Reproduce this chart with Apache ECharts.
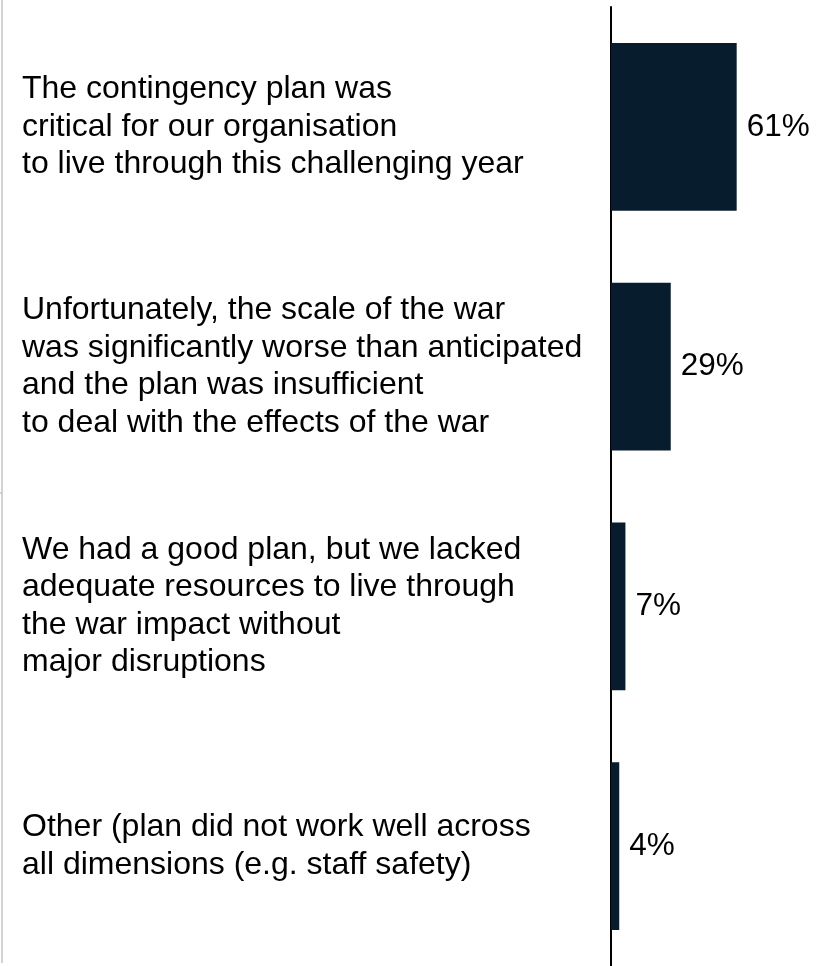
<!DOCTYPE html>
<html>
<head>
<meta charset="utf-8">
<script src="https://cdn.jsdelivr.net/npm/echarts@6/dist/echarts.min.js"></script>
<style>
  html, body { margin: 0; padding: 0; background: #ffffff; }
  #chart { width: 816px; height: 966px; }
</style>
</head>
<body>
<div id="chart"></div>
<script>
// Survey answers, top to bottom
const categories = [
  'The contingency plan was\ncritical for our organisation\nto live through this challenging year',
  'Unfortunately, the scale of the war\nwas significantly worse than anticipated\nand the plan was insufficient\nto deal with the effects of the war',
  'We had a good plan, but we lacked\nadequate resources to live through\nthe war impact without\nmajor disruptions',
  'Other (plan did not work well across\nall dimensions (e.g. staff safety)'
];
// Share of respondents, percent
const shares = [61, 29, 7, 4];

const FONT = '"Liberation Sans", Arial, sans-serif';
const chart = echarts.init(document.getElementById('chart'), null, { renderer: 'canvas' });

chart.setOption({
  backgroundColor: '#ffffff',
  animation: false,
  grid: { left: 611, top: 7, width: 205, height: 962, containLabel: false },
  xAxis: { type: 'value', min: 0, max: 99.5, show: false },
  yAxis: {
    type: 'category',
    data: categories,
    inverse: true,
    axisLine: { show: true, lineStyle: { color: '#000000', width: 2 } },
    axisTick: { show: false },
    splitLine: { show: false },
    axisLabel: {
      align: 'left',
      margin: 589,
      color: '#000000',
      fontFamily: FONT,
      fontSize: 32,
      lineHeight: 37.5,
      padding: [3, 0, 0, 0]
    }
  },
  series: [{
    type: 'bar',
    data: shares,
    barWidth: '70%',
    itemStyle: { color: '#071c2d' },
    label: {
      show: true,
      position: 'right',
      distance: 10,
      formatter: p => p.value + '%',
      color: '#000000',
      fontFamily: FONT,
      fontSize: 31.5,
      padding: [2, 0, 0, 0]
    }
  }],
  graphic: [
    { type: 'line', shape: { x1: 2, y1: 0, x2: 2, y2: 963 }, style: { stroke: '#c4c4c4', lineWidth: 1.5 } },
    { type: 'line', shape: { x1: 0, y1: 493, x2: 2, y2: 493 }, style: { stroke: '#c4c4c4', lineWidth: 1.5 } }
  ]
});
</script>
</body>
</html>
